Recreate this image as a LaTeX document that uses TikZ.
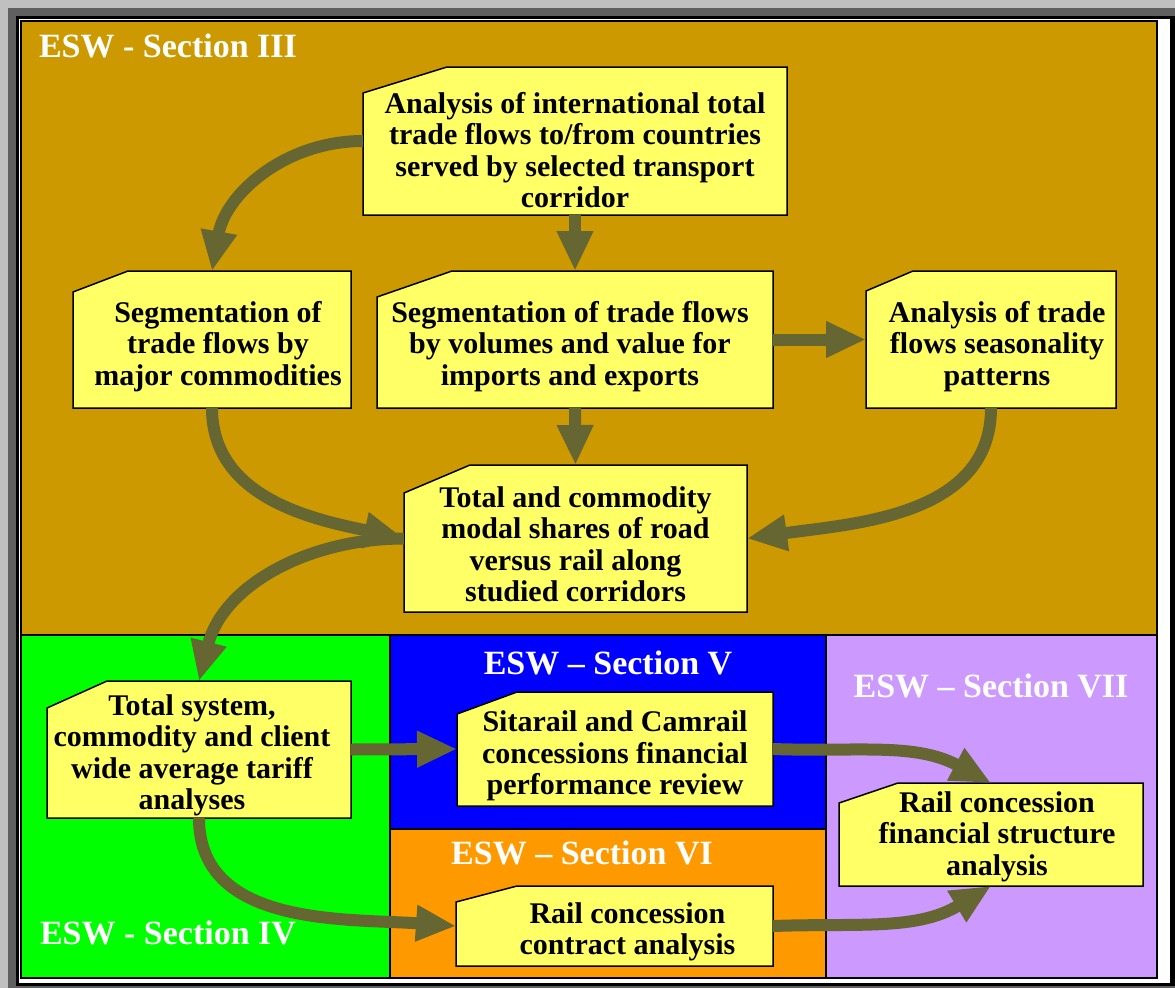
\documentclass[tikz,border=0pt]{standalone}
\usepackage{fontspec}
\setmainfont{Liberation Serif}
\usetikzlibrary{arrows.meta}

\definecolor{frameback}{HTML}{C0C0C0}
\definecolor{framedark}{HTML}{606060}
\definecolor{goldpanel}{HTML}{CC9900}
\definecolor{greenpanel}{HTML}{00FF00}
\definecolor{bluepanel}{HTML}{0000FF}
\definecolor{orangepanel}{HTML}{FF9900}
\definecolor{lilacpanel}{HTML}{CC99FF}
\definecolor{cardyellow}{HTML}{FFFF66}
\definecolor{flowolive}{HTML}{666633}

\tikzset{
  panel/.style={draw=black, line width=1.5pt},
  seclabel/.style={text=white, inner sep=0pt, font=\bfseries\fontsize{34}{38}\selectfont},
  card/.style={fill=cardyellow, draw=black, line width=1.5pt},
  cardframe/.style={inner sep=0pt, outer sep=0pt},
  cardtext/.style={align=center, inner sep=0pt, font=\bfseries\fontsize{30}{31.5}\selectfont},
  flow/.style={draw=flowolive, line width=12pt, -{Triangle[length=40pt,width=34pt]}},
}

% card with cut corner: name, x1, y1, x2, y2, cut x, cut y, text offset, text
\newcommand{\cardbox}[9]{%
  \filldraw[card] (#2,#3+#7) -- (#2+#6,#3) -- (#4,#3) -- (#4,#5) -- (#2,#5) -- cycle;
  \node[cardframe, minimum width={(#4-#2)*1pt}, minimum height={(#5-#3)*1pt}] (#1) at ({(#2+#4)/2},{(#3+#5)/2}) {};
  \node[cardtext] (#1-text) at ([shift={(#8)}] #1.center) {#9};
}

\begin{document}
\begin{tikzpicture}[x=1pt, y=-1pt]
        % frame
        \fill[frameback] (0,0) rectangle (1175,988);
        \fill[framedark] (8,8) rectangle (1175,988);
        \fill[black] (16,16) rectangle (1175,986);
        \fill[white] (19,19) rectangle (1170,983);

        \begin{scope}[name prefix = sec3-]
            \filldraw[panel, fill=goldpanel] (21,21) rectangle (1157,635);
            \node[seclabel] (label) at (168,46) {ESW - Section III};
            \cardbox{trade}{363}{67}{787}{215}{84}{26}{0,9}{Analysis of international total\\trade flows to/from countries\\served by selected transport\\corridor}
            \cardbox{commod}{73}{271}{351}{408}{55}{21}{6,7}{Segmentation of\\trade flows by\\major commodities}
            \cardbox{volume}{377}{271}{773}{408}{75}{26}{-5,7}{Segmentation of trade flows\\by volumes and value for\\imports and exports}
            \cardbox{season}{866}{271}{1116}{408}{47}{20}{6,7}{Analysis of trade\\flows seasonality\\patterns}
            \cardbox{modal}{404}{465}{747}{612}{66}{28}{0,6}{Total and commodity\\modal shares of road\\versus rail along\\studied corridors}
            \draw[flow] (trade.west) to[out=180, in=80] (commod.north);
            \draw[flow] (trade.south) -- (volume.north);
            \draw[flow] (volume.east) -- (season.west);
            \draw[flow] (volume.south) -- (modal.north);
            \draw[flow] (commod.south) to[out=-90, in=168] (modal.west);
            \draw[flow] (season.south) to[out=-90, in=8] (modal.east);
        \end{scope}
        \begin{scope}[name prefix = sec4-]
            \filldraw[panel, fill=greenpanel] (21,635) rectangle (390,978);
            \node[seclabel] (label) at (168,933) {ESW - Section IV};
            \cardbox{tariff}{47}{681}{351}{818}{60}{27}{-7,6}{Total system,\\commodity and client\\wide average tariff\\analyses}
        \end{scope}
        \begin{scope}[name prefix = sec5-]
            \filldraw[panel, fill=bluepanel] (390,635) rectangle (826,829);
            \node[seclabel] (label) at (608,663) {ESW -- Section V};
            \cardbox{review}{457}{692}{773}{806}{60}{22}{0,7}{Sitarail and Camrail\\concessions financial\\performance review}
        \end{scope}
        \begin{scope}[name prefix = sec6-]
            \filldraw[panel, fill=orangepanel] (390,829) rectangle (826,978);
            \node[seclabel] (label) at (582,853) {ESW -- Section VI};
            \cardbox{contract}{456}{886}{773}{966}{61}{16}{13,6}{Rail concession\\contract analysis}
        \end{scope}
        \begin{scope}[name prefix = sec7-]
            \filldraw[panel, fill=lilacpanel] (826,635) rectangle (1157,978);
            \node[seclabel] (label) at (991,686) {ESW -- Section VII};
            \cardbox{structure}{839}{783}{1143}{886}{59}{20}{6,2}{Rail concession\\financial structure\\analysis}
        \end{scope}

        \draw[flow] (sec3-modal.west) to[out=180, in=76] (sec4-tariff.north);
        \draw[flow] (sec4-tariff.east) -- (sec5-review.west);
        \draw[flow] (sec4-tariff.south) to[out=-90, in=176] (sec6-contract.west);
        \draw[flow] (sec5-review.east) to[out=-2, in=152] (sec7-structure.north);
        \draw[flow] (sec6-contract.east) to[out=2, in=211] (sec7-structure.south);
    \end{tikzpicture}
\end{document}
